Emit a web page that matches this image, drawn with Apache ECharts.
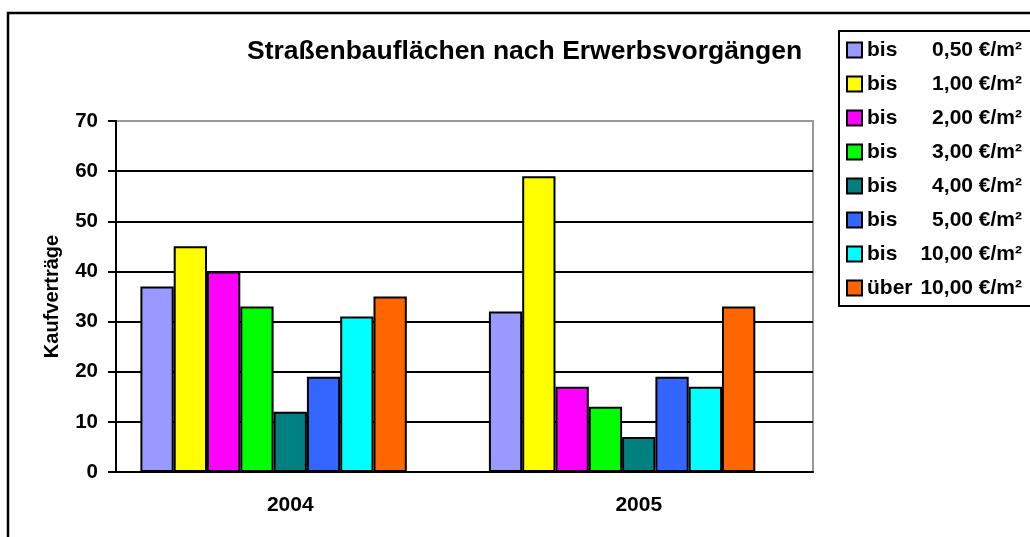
<!DOCTYPE html>
<html>
<head>
<meta charset="utf-8">
<script src="https://cdn.jsdelivr.net/npm/echarts@6/dist/echarts.min.js"></script>
<style>
  html, body { margin: 0; padding: 0; background: #fff; }
  #chart { width: 1030px; height: 537px; }
</style>
</head>
<body>
<div id="chart"></div>
<script>
// Years on the category axis
const years = ['2004', '2005'];

// Price classes (label prefix and upper bound)
const classPrefix = ['bis', 'bis', 'bis', 'bis', 'bis', 'bis', 'bis', 'über'];
const classPrice = ['0,50', '1,00', '2,00', '3,00', '4,00', '5,00', '10,00', '10,00'];
const classColors = ['#9999FF', '#FFFF00', '#FF00FF', '#00FF00', '#008080', '#3366FF', '#00FFFF', '#FF6600'];

// Number of purchase contracts per class: [2004, 2005]
const bis050 = [37, 32];
const bis100 = [45, 59];
const bis200 = [40, 17];
const bis300 = [33, 13];
const bis400 = [12, 7];
const bis500 = [19, 19];
const bis1000 = [31, 17];
const ueber1000 = [35, 33];

const seriesValues = [bis050, bis100, bis200, bis300, bis400, bis500, bis1000, ueber1000];

// Y axis ticks
const yMin = 0, yMax = 70, yStep = 10;

const names = classPrefix.map((p, i) => p + ' ' + classPrice[i] + ' €/m²');

const font = '"Liberation Sans", Arial, sans-serif';

const series = seriesValues.map((vals, i) => ({
  name: names[i],
  type: 'bar',
  data: vals,
  barGap: '0%',
  barCategoryGap: '14%',
  itemStyle: { color: classColors[i], borderColor: '#000', borderWidth: 2 }
}));
// empty slot reserved in each year group
series.push({ name: '_', type: 'bar', data: [null, null], barGap: '0%', barCategoryGap: '14%', silent: true });

const chart = echarts.init(document.getElementById('chart'), null, { renderer: 'canvas' });
chart.setOption({
  animation: false,
  backgroundColor: '#fff',
  title: {
    text: 'Straßenbauflächen nach Erwerbsvorgängen',
    left: 247,
    top: 38,
    padding: 0,
    textStyle: { fontFamily: font, fontWeight: 'bold', fontSize: 26.5, color: '#000' }
  },
  legend: {
    data: names,
    orient: 'vertical',
    left: 839,
    top: 31,
    padding: [7, 16, 6, 7],
    borderColor: '#000',
    borderWidth: 2,
    itemWidth: 15,
    itemHeight: 15,
    itemGap: 10,
    icon: 'rect',
    selectedMode: false,
    formatter: function (name) {
      const i = names.indexOf(name);
      return '{a|' + classPrefix[i] + '}{b|' + classPrice[i] + ' €/m²}';
    },
    textStyle: {
      fontFamily: font, fontWeight: 'bold', fontSize: 21, color: '#000', lineHeight: 24,
      rich: {
        a: { fontFamily: font, fontWeight: 'bold', fontSize: 21, color: '#000', width: 52, align: 'left' },
        b: { fontFamily: font, fontWeight: 'bold', fontSize: 21, color: '#000', width: 103, align: 'right' }
      }
    }
  },
  grid: {
    left: 116, right: 217, top: 121, bottom: 65,
    show: true, borderColor: '#999', borderWidth: 2, backgroundColor: 'transparent'
  },
  xAxis: {
    type: 'category',
    data: years,
    axisLine: { lineStyle: { color: '#000', width: 2 } },
    axisTick: { inside: true, length: 7, lineStyle: { color: '#000', width: 2 } },
    axisLabel: { fontFamily: font, fontWeight: 'bold', fontSize: 21, color: '#000', margin: 23 }
  },
  yAxis: {
    type: 'value',
    min: yMin, max: yMax, interval: yStep,
    name: 'Kaufverträge',
    nameLocation: 'middle',
    nameGap: 54,
    nameTextStyle: { fontFamily: font, fontWeight: 'bold', fontSize: 20, color: '#000' },
    axisLine: { show: true, lineStyle: { color: '#000', width: 2 } },
    axisTick: { show: true, length: 8, lineStyle: { color: '#000', width: 2 } },
    axisLabel: { fontFamily: font, fontWeight: 'bold', fontSize: 20.5, color: '#000', margin: 18 },
    splitLine: { show: true, showMaxLine: false, lineStyle: { color: '#000', width: 2 } }
  },
  graphic: [{
    type: 'rect',
    silent: true,
    shape: { x: 8, y: 13, width: 1100, height: 600 },
    style: { fill: 'none', stroke: '#000', lineWidth: 2.5 }
  }],
  series: series
});
</script>
</body>
</html>
